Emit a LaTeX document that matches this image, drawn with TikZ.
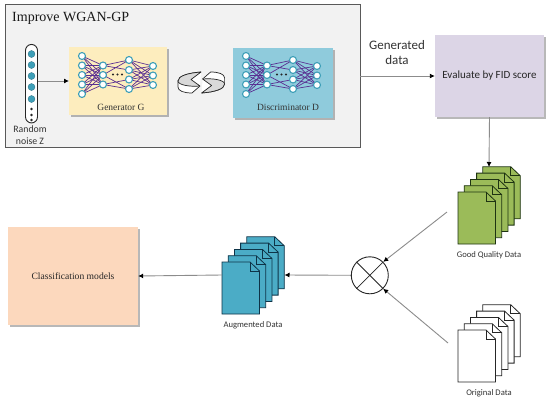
\documentclass[tikz,border=0pt]{standalone}
\usepackage{fontspec}
\setmainfont{Liberation Serif}
\newfontfamily\calf{Carlito}
\usetikzlibrary{arrows.meta,shadows}
\definecolor{shaft}{HTML}{8C8C8C}
\definecolor{panel}{HTML}{F2F2F2}
\definecolor{teal}{HTML}{3E9FB8}
\definecolor{purp}{HTML}{5A2F92}
\definecolor{genfill}{HTML}{FDEDBE}
\definecolor{disfill}{HTML}{8FCBDC}
\definecolor{fidfill}{HTML}{DCD5E6}
\definecolor{clsfill}{HTML}{FCD8BD}
\definecolor{goodfill}{HTML}{9BBB59}
\definecolor{goodline}{HTML}{1E3312}
\definecolor{augfill}{HTML}{4BACC6}
\definecolor{augline}{HTML}{0E3347}
\tikzset{
  panelbox/.style={draw=black!65,line width=1pt,fill=panel},
  card/.style={minimum width=#1,inner sep=0pt,drop shadow={shadow xshift=1.5pt,shadow yshift=-1.5pt,fill=black!55}},
  flow/.style={draw=shaft,line width=0.9pt,-{Latex[black,length=5pt,width=5pt]}},
  neuron/.style={circle,draw=teal,line width=1.1pt,fill=white,minimum size=7pt,inner sep=0pt},
  bead/.style={circle,fill=teal,draw=teal!70!black,line width=.3pt,minimum size=7pt,inner sep=0pt},
  dotmark/.style={circle,fill=black!85,minimum size=2.6pt,inner sep=0pt},
  wire/.style={draw=purp,line width=.7pt},
  lab/.style={font=\calf\fontsize{8.6}{10}\selectfont,text=black!80,inner sep=0pt},
  big/.style={font=\calf\fontsize{13}{15}\selectfont,text=black!80,inner sep=0pt,align=center},
  netlab/.style={font=\fontsize{9.5}{11}\selectfont,text=black!80,inner sep=0pt},
}
% a stack of five pages: #1 front left x, #2 front top y, #3 fill, #4 stroke
\newcommand{\pagestack}[4]{%
  \foreach \k in {4,3,2,1,0}{%
    \begin{scope}[shift={({#1+\k*6.2},{#2-\k*6.3})}]
      \draw[fill=#3,draw=#4,line width=.8pt,line join=miter]
        (0,0) -- (28,0) -- (37.5,9) -- (37.5,52) -- (0,52) -- cycle;
      \draw[draw=#4,line width=.8pt] (28,0) -- (28,9) -- (37.5,9);
    \end{scope}}%
}
% network: #1 prefix, #2 x offset
\newcommand{\netdraw}[2]{%
  \begin{scope}[shift={(#2,0)}]
    \foreach \y [count=\i] in {56,65.5,75,84.5,94}{\coordinate (#1pa\i) at (0,\y);}
    \foreach \y [count=\i] in {65.5,75,84.5}{\coordinate (#1pb\i) at (21,\y);}
    \foreach \y [count=\i] in {60,70,79.5,89}{\coordinate (#1pc\i) at (47,\y);}
    \foreach \y [count=\i] in {66,75.5,85}{\coordinate (#1pd\i) at (71,\y);}
    \foreach \i in {1,...,5}{\foreach \j in {1,2,3}{\draw[wire] (#1pa\i) -- (#1pb\j);}}
    \foreach \i in {1,...,4}{\foreach \j in {1,2,3}{\draw[wire] (#1pc\i) -- (#1pd\j);}}
    \draw[wire] (#1pb1) -- (#1pc1) (#1pb1) -- (#1pc2) (#1pb3) -- (#1pc3) (#1pb3) -- (#1pc4) (#1pb2) -- (#1pc1) (#1pb2) -- (#1pc4);
    \foreach \i in {1,...,5}{\node[neuron] (#1a\i) at (#1pa\i) {};}
    \foreach \i in {1,2,3}{\node[neuron] (#1b\i) at (#1pb\i) {};}
    \foreach \i in {1,...,4}{\node[neuron] (#1c\i) at (#1pc\i) {};}
    \foreach \i in {1,2,3}{\node[neuron] (#1d\i) at (#1pd\i) {};}
    \foreach \x [count=\i] in {31,35.5,40}{\node[dotmark,minimum size=2.4pt] (#1m\i) at (\x,74.5) {};}
  \end{scope}%
}
\newcommand{\halfcycle}{%
  \draw[fill=white,draw=black!85,line width=.7pt,line join=round]
    (201,72) .. controls (188,73) and (178,76) .. (178,81) -- (178,87)
    .. controls (178,91) and (184,93) .. (192,93) -- (200,86);
  \draw[fill=black!15,draw=black!85,line width=.7pt,line join=round]
    (201,72) .. controls (188,73) and (178,76) .. (178,81)
    .. controls (178,85) and (190,87) .. (200,86) -- (191,79.5) -- cycle;
}
\begin{document}
\begin{tikzpicture}[x=1pt,y=-1pt]
\useasboundingbox (0,0) rectangle (550,402);
\fill[white] (0,0) rectangle (550,402);

% panel
\draw[panelbox] (5,4) rectangle (360,147.5);
\node[anchor=west,inner sep=0pt,font=\fontsize{14}{17}\selectfont,text=black!90] (title) at (12,18) {Improve WGAN-GP};

% boxes
\node[card=98pt,minimum height=68pt,fill=genfill] (gen) at (118,81) {};
\node[netlab] (genl) at (121,107) {Generator G};
\node[card=100pt,minimum height=70pt,fill=disfill] (dis) at (283,83) {};
\node[netlab] (disl) at (288,107) {Discriminator D};
\node[card=109pt,minimum height=82pt,fill=fidfill,font=\calf\fontsize{11}{13}\selectfont,text=black!85] (fid) at (489.5,76) {Evaluate by FID score};
\node[card=130pt,minimum height=98pt,fill=clsfill,font=\fontsize{9.6}{12}\selectfont,text=black!85] (cls) at (73,276) {Classification models};

% noise capsule
\node[draw=black!85,line width=.9pt,fill=white,rounded corners=6pt,inner sep=0pt,minimum width=12pt,minimum height=78.5pt] (noise) at (31.5,83.7) {};
\foreach \y [count=\i] in {54,65,76,87,99}{\node[bead] (b\i) at (31.5,\y) {};}
\foreach \y [count=\i] in {109,115,120}{\node[dotmark] (n\i) at (31.5,\y) {};}
\node[big,font=\calf\fontsize{9.8}{12}\selectfont] (rnd) at (30,135) {Random\\noise Z};

% networks
\netdraw{g}{82}
\netdraw{d}{246}

% cycle icon
\halfcycle
\begin{scope}[rotate around={180:(201.3,82.5)}]
\halfcycle
\end{scope}

% stacks
\pagestack{458}{192}{goodfill}{goodline}
\pagestack{458}{330}{white}{black!85}
\pagestack{222}{262}{augfill}{augline}
\coordinate (goodin) at (489,167);
\coordinate (goodout) at (447,212);
\coordinate (origout) at (448,343);
\coordinate (augin) at (284.5,275);
\coordinate (augout) at (222,275);
\coordinate (panelr) at (360,76);
\coordinate (noiseout) at (37.5,81);
\coordinate (genin) at (69,81);
\node[lab] (goodl) at (489,255.5) {Good Quality Data};
\node[lab] (origl) at (489,393.5) {Original Data};
\node[lab] (augl) at (253,325.5) {Augmented Data};

% mixer
\node[circle,draw=black!85,line width=.9pt,minimum size=37pt,inner sep=0pt,fill=white] (mix) at (369.8,275.3) {};
\draw[black!85,line width=.8pt] (mix.45) -- (mix.225) (mix.135) -- (mix.315);

% connectors
\draw[flow] (noiseout) -- (genin);
\draw[flow] (panelr) -- (fid.west);
\draw[flow] (fid.south) -- (goodin);
\draw[flow] (goodout) -- (mix.45);
\draw[flow] (origout) -- (mix.-45);
\draw[flow] (mix.west) -- (augin);
\draw[flow] (augout) -- (cls.east);

\node[big] (gd) at (397,52.5) {Generated\\data};
\end{tikzpicture}
\end{document}
